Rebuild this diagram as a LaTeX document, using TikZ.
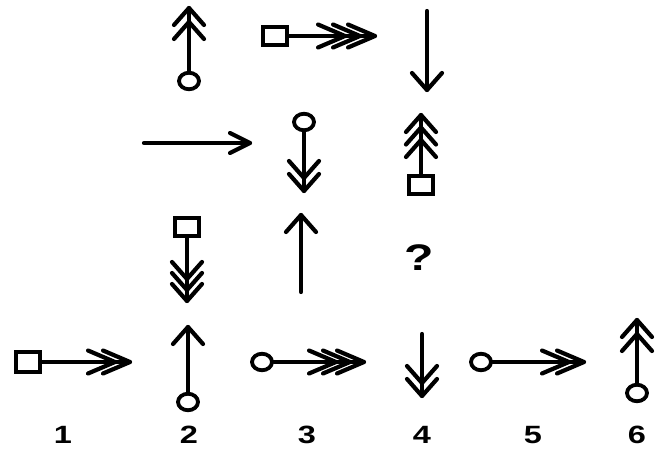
\documentclass[tikz,border=0pt]{standalone}
\usepackage{fontspec}
\setmainfont{Liberation Sans}
\usetikzlibrary{shapes.geometric,calc}
\tikzset{
  stroke/.style={line width=4.2pt, line cap=round},
  ring/.style={ellipse, draw, line width=3.8pt, minimum width=20pt, minimum height=16.5pt, inner sep=0pt},
  sqbox/.style={rectangle, draw, line width=3.8pt, minimum width=24.5pt, minimum height=17.5pt, inner sep=0pt},
  chev/.style={line width=4.2pt, line join=round, line cap=round},
  uchev/.pic={\draw[chev] (-15,17)--(0,0)--(15,17);},
  dchev/.pic={\draw[chev] (-15,-17)--(0,0)--(15,-17);},
  rchev/.pic={\draw[chev] (-27,-11.5)--(0,0)--(-27,11.5);},
  rhead/.pic={\draw[chev] (-20,-10)--(0,0)--(-20,10);},
  lbl/.style={font=\bfseries\fontsize{25}{25}\selectfont, inner sep=0pt, xscale=1.3},
  qmark/.style={font=\bfseries\fontsize{37}{37}\selectfont, inner sep=0pt, xscale=1.3},
}
\begin{document}
\begin{tikzpicture}[x=1pt,y=-1pt]
\useasboundingbox (0,0) rectangle (659,450);
% ---- top row
\node[ring] (r1) at (189,81) {};
\coordinate (t1) at (189,8);
\draw[stroke] (r1.north) -- (t1);
\pic at (t1) {uchev};
\pic at ($(t1)+(0,14)$) {uchev};

\node[sqbox] (b2) at (275,36) {};
\coordinate (t2) at (375,36);
\draw[stroke] (b2.east) -- (t2);
\foreach \d in {0,15,30} {\pic at ($(t2)-(\d,0)$) {rchev};}

\coordinate (s3) at (427,11);
\coordinate (t3) at (427,90);
\draw[stroke] (s3) -- (t3);
\pic at (t3) {dchev};

% ---- second row
\coordinate (s4) at (144,143);
\coordinate (t4) at (250,143);
\draw[stroke] (s4) -- (t4);
\pic at (t4) {rhead};

\node[ring] (r5) at (304,122) {};
\coordinate (t5) at (304,191);
\draw[stroke] (r5.south) -- (t5);
\pic at (t5) {dchev};
\pic at ($(t5)-(0,13)$) {dchev};

\node[sqbox] (b6) at (421,185) {};
\coordinate (t6) at (421,115);
\draw[stroke] (b6.north) -- (t6);
\foreach \d in {0,12.5,25} {\pic at ($(t6)+(0,\d)$) {uchev};}

% ---- third row
\node[sqbox] (b7) at (187,227) {};
\coordinate (t7) at (187,301);
\draw[stroke] (b7.south) -- (t7);
\foreach \d in {0,11,22} {\pic at ($(t7)-(0,\d)$) {dchev};}

\coordinate (s8) at (301,292);
\coordinate (t8) at (301,215);
\draw[stroke] (s8) -- (t8);
\pic at (t8) {uchev};

\node[qmark] (q) at (419,258) {?};

% ---- answer row
\node[sqbox, minimum height=20pt] (b10) at (28,362) {};
\coordinate (t10) at (130,362);
\draw[stroke] (b10.east) -- (t10);
\pic at (t10) {rchev};
\pic at ($(t10)-(15,0)$) {rchev};

\node[ring] (r11) at (188,402) {};
\coordinate (t11) at (188,327);
\draw[stroke] (r11.north) -- (t11);
\pic at (t11) {uchev};

\node[ring] (r12) at (262,362) {};
\coordinate (t12) at (364,362);
\draw[stroke] (r12.east) -- (t12);
\foreach \d in {0,14,28} {\pic at ($(t12)-(\d,0)$) {rchev};}

\coordinate (s13) at (422,334);
\coordinate (t13) at (422,396);
\draw[stroke] (s13) -- (t13);
\pic at (t13) {dchev};
\pic at ($(t13)-(0,13)$) {dchev};

\node[ring] (r14) at (481,362) {};
\coordinate (t14) at (584,362);
\draw[stroke] (r14.east) -- (t14);
\pic at (t14) {rchev};
\pic at ($(t14)-(15,0)$) {rchev};

\node[ring] (r15) at (637,393) {};
\coordinate (t15) at (637,320);
\draw[stroke] (r15.north) -- (t15);
\pic at (t15) {uchev};
\pic at ($(t15)+(0,14)$) {uchev};

% ---- labels
\node[lbl] (n1) at (63,435) {1};
\node[lbl] (n2) at (189,435) {2};
\node[lbl] (n3) at (307,435) {3};
\node[lbl] (n4) at (422,435) {4};
\node[lbl] (n5) at (533,435) {5};
\node[lbl] (n6) at (637,435) {6};
\end{tikzpicture}
\end{document}
